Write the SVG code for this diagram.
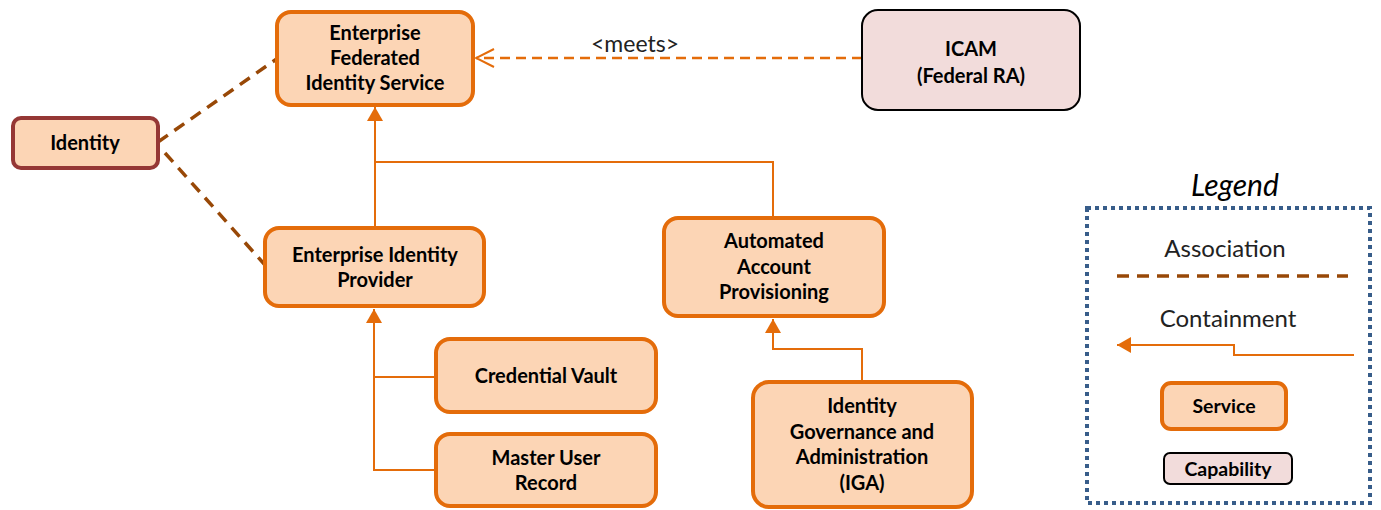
<svg xmlns="http://www.w3.org/2000/svg" width="1381" height="510" viewBox="0 0 1381 510">
<style>
.svc{fill:#FCD5B5;stroke:#E46C0A;stroke-width:4}
.cap{fill:#F2DCDB;stroke:#000;stroke-width:2}
.t{font-family:Lato,"Liberation Sans",sans-serif;font-weight:bold;font-size:20px;fill:#000;text-anchor:middle}
.r{font-family:Lato,"Liberation Sans",sans-serif;font-size:24px;fill:#222;text-anchor:middle}
.cont{fill:none;stroke:#E46C0A;stroke-width:2}
.assoc{fill:none;stroke:#984807;stroke-width:3.5;stroke-dasharray:12 8}
</style>
<defs>
<marker id="tri" viewBox="0 0 14 16" refX="14" refY="8" markerWidth="14" markerHeight="16" orient="auto" markerUnits="userSpaceOnUse"><path d="M0,0 L14,8 L0,16 Z" fill="#E46C0A"/></marker>
<marker id="open" viewBox="0 0 20 20" refX="19" refY="10" markerWidth="20" markerHeight="20" orient="auto" markerUnits="userSpaceOnUse"><path d="M1,1 L19,10 L1,19" fill="none" stroke="#E46C0A" stroke-width="2"/></marker>
</defs>
<rect width="1381" height="510" fill="#fff"/>
<g id="connectors">
<line x1="862" y1="58" x2="476" y2="58" stroke="#E46C0A" stroke-width="2.5" stroke-dasharray="10 6" marker-end="url(#open)"/>
<text x="635" y="52" class="r" style="font-size:23px">&lt;meets&gt;</text>
<line class="assoc" x1="158" y1="142" x2="278" y2="58"/>
<line class="assoc" x1="165" y1="153" x2="265" y2="265"/>
<path class="cont" d="M375,227 V107" marker-end="url(#tri)"/>
<path class="cont" d="M773,217 V162 H375"/>
<path class="cont" d="M435,377 H374 V309" marker-end="url(#tri)"/>
<path class="cont" d="M435,470 H374 V377"/>
<path class="cont" d="M862,381 V349 H773 V319" marker-end="url(#tri)"/>
</g>
<g id="efis"><rect class="svc" x="277" y="12" width="196" height="93" rx="14"/>
<text class="t" x="375" y="40">Enterprise</text><text class="t" x="375" y="65">Federated</text><text class="t" x="375" y="90">Identity Service</text></g>
<g id="identity"><rect x="13" y="118" width="145" height="50" rx="8" fill="#FCD5B5" stroke="#953735" stroke-width="4"/>
<text class="t" x="85" y="150">Identity</text></g>
<g id="icam"><rect class="cap" x="862" y="10" width="218" height="100" rx="16"/>
<text class="t" x="971" y="56">ICAM</text><text class="t" x="971" y="83">(Federal RA)</text></g>
<g id="eip"><rect class="svc" x="265" y="228" width="219" height="78" rx="14"/>
<text class="t" x="375" y="262">Enterprise Identity</text><text class="t" x="375" y="287">Provider</text></g>
<g id="aap"><rect class="svc" x="664" y="218" width="220" height="98" rx="14"/>
<text class="t" x="774" y="248">Automated</text><text class="t" x="774" y="274">Account</text><text class="t" x="774" y="299">Provisioning</text></g>
<g id="cv"><rect class="svc" x="436" y="339" width="220" height="73" rx="14"/>
<text class="t" x="546" y="383">Credential Vault</text></g>
<g id="mur"><rect class="svc" x="436" y="434" width="220" height="72" rx="14"/>
<text class="t" x="546" y="465">Master User</text><text class="t" x="546" y="490">Record</text></g>
<g id="iga"><rect class="svc" x="753" y="382" width="219" height="125" rx="16"/>
<text class="t" x="862" y="413">Identity</text><text class="t" x="862" y="439">Governance and</text><text class="t" x="862" y="464">Administration</text><text class="t" x="862" y="490">(IGA)</text></g>
<g id="legend">
<text x="1235" y="196" class="r" style="font-size:30px;font-style:italic;fill:#000">Legend</text>
<rect x="1087" y="208" width="283" height="295" fill="none" stroke="#385D8A" stroke-width="4" stroke-dasharray="4 4"/>
<text x="1225" y="257" class="r">Association</text>
<line class="assoc" x1="1117" y1="276" x2="1348" y2="276"/>
<text x="1228" y="327" class="r">Containment</text>
<path class="cont" d="M1354,355 H1234 V345 H1117" marker-end="url(#tri)"/>
<rect class="svc" x="1162" y="383" width="124" height="46" rx="9"/>
<text class="t" x="1224" y="413" style="font-size:19.5px">Service</text>
<rect class="cap" x="1164" y="453" width="128" height="31" rx="6"/>
<text class="t" x="1228" y="476" style="font-size:19.5px">Capability</text>
</g>
</svg>
